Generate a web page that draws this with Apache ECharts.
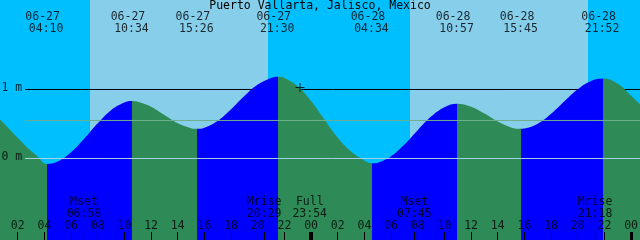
<!DOCTYPE html>
<html><head><meta charset="utf-8">
<script src="https://cdn.jsdelivr.net/npm/echarts@6/dist/echarts.min.js"></script>
<style>html,body{margin:0;padding:0;background:#00BFFF}#c{width:640px;height:240px}</style>
</head><body><div id="c"></div>
<script>
// ---- data (hours counted from 06-27 00:00, levels in metres) ----
const TITLE = 'Puerto Vallarta, Jalisco, Mexico';
const TIDE_HOURS  = [0.5, 1.0, 1.5, 2.0, 2.5, 3.0, 3.5, 4.167, 5, 6, 7, 8, 9, 10, 10.567, 11, 12, 13, 14, 15, 15.433, 16, 17, 18, 19, 20, 21, 21.5, 22, 23, 24, 25, 26, 27, 28, 28.567, 29, 30, 31, 32, 33, 34, 34.95, 36, 37, 38, 39, 39.75, 40, 41, 42, 43, 44, 45, 45.867, 47, 48, 49];
const TIDE_LEVELS = [0.59, 0.50, 0.40, 0.30, 0.20, 0.11, 0.03, -0.08, -0.045, 0.09, 0.29, 0.51, 0.70, 0.81, 0.833, 0.822, 0.75, 0.63, 0.51, 0.44, 0.43, 0.446, 0.547, 0.715, 0.907, 1.072, 1.168, 1.186, 1.168, 1.046, 0.832, 0.564, 0.30, 0.10, -0.03, -0.07, -0.06, 0.033, 0.203, 0.411, 0.607, 0.744, 0.794, 0.749, 0.651, 0.536, 0.451, 0.43, 0.433, 0.503, 0.648, 0.831, 1.005, 1.124, 1.16, 1.085, 0.91, 0.72];
const EXTREME_HOURS = [4.167, 10.567, 15.433, 21.5, 28.567, 34.95, 39.75, 45.867];
const EXTREME_KINDS = ['low', 'high', 'low', 'high', 'low', 'high', 'low', 'high'];
const EXTREME_DATES = ['06-27', '06-27', '06-27', '06-27', '06-28', '06-28', '06-28', '06-28'];
const EXTREME_TIMES = ['04:10', '10:34', '15:26', '21:30', '04:34', '10:57', '15:45', '21:52'];
const SUNRISE_HOURS = [7.4, 31.4];
const SUNSET_HOURS  = [20.75, 44.75];
const MOON_HOURS  = [6.967, 20.483, 23.9, 31.75, 45.3];
const MOON_EVENTS = ['Mset', 'Mrise', 'Full', 'Mset', 'Mrise'];
const MOON_TIMES  = ['06:58', '20:29', '23:54', '07:45', '21:18'];
const TICK_HOURS  = [2, 4, 6, 8, 10, 12, 14, 16, 18, 20, 22, 24, 26, 28, 30, 32, 34, 36, 38, 40, 42, 44, 46, 48];
const TICK_LABELS = ['02', '04', '06', '08', '10', '12', '14', '16', '18', '20', '22', '00', '02', '04', '06', '08', '10', '12', '14', '16', '18', '20', '22', '00'];
const LEVEL_MARKS  = [1, 0];
const LEVEL_LABELS = ['1 m', '0 m'];
const MEAN_SEA_LEVEL = 0.551;
const NOW_HOUR = 23.17, NOW_LEVEL = 1.03;
const X_MIN = 0.67, X_MAX = 48.67;
const Y_MIN = -1.1812, Y_MAX = 2.2971;
const LINE_START_HOUR = 2.55;

// ---- colours / styles ----
const NIGHT = '#00BFFF', DAY = '#87CEEB', RISE = '#0000FF', FALL = '#2E8B57';
const FONT = { fontFamily: 'DejaVu Sans Mono', fontSize: 11.5, color: '#000' };

const risingPieces = [];
for (let i = 0; i < EXTREME_HOURS.length - 1; i++) {
  if (EXTREME_KINDS[i] === 'low') risingPieces.push({ gte: EXTREME_HOURS[i], lt: EXTREME_HOURS[i + 1], color: RISE });
}

const chart = echarts.init(document.getElementById('c'), null, { renderer: 'canvas' });
const labelSeries = (data, fmt, offset, extra) => ({
  type: 'scatter', data, symbolSize: 1, clip: false, z: 10, silent: true,
  itemStyle: { color: 'rgba(0,0,0,0)' },
  label: Object.assign({ show: true, position: 'inside', offset, formatter: fmt }, FONT, extra || {})
});

chart.setOption({
  animation: false,
  backgroundColor: NIGHT,
  title: { text: TITLE, left: 'center', top: 0, padding: 0, textStyle: Object.assign({ fontWeight: 'normal' }, FONT) },
  grid: { left: 0, right: 0, top: 0, bottom: 0 },
  xAxis: { type: 'value', min: X_MIN, max: X_MAX, show: false },
  yAxis: { type: 'value', min: Y_MIN, max: Y_MAX, show: false },
  visualMap: { show: false, type: 'piecewise', seriesIndex: 2, dimension: 0, pieces: risingPieces, outOfRange: { color: FALL } },
  series: [
    { // daylight bands
      type: 'custom', z: 0, silent: true,
      data: SUNRISE_HOURS.map((h, i) => [h, SUNSET_HOURS[i]]),
      renderItem: (params, api) => {
        const a = api.coord([api.value(0), Y_MAX]);
        const b = api.coord([api.value(1), Y_MIN]);
        const x0 = Math.round(a[0]), x1 = Math.round(b[0]);
        return { type: 'rect', shape: { x: x0, y: a[1], width: x1 - x0, height: b[1] - a[1] }, style: { fill: DAY } };
      }
    },
    { type: 'line', z: 1, symbol: 'none', silent: true, data: [[LINE_START_HOUR, LEVEL_MARKS[0]], [X_MAX, LEVEL_MARKS[0]]], lineStyle: { color: '#000', width: 1 } },
    { type: 'line', z: 2, symbol: 'none', silent: true, smooth: 0.4,
      data: TIDE_HOURS.map((h, i) => [h, TIDE_LEVELS[i]]),
      lineStyle: { width: 0 }, areaStyle: { opacity: 1, origin: 'start' } },
    { type: 'line', z: 3, symbol: 'none', silent: true, data: [[LINE_START_HOUR, LEVEL_MARKS[1]], [X_MAX, LEVEL_MARKS[1]]], lineStyle: { color: '#a8d0e4', width: 1 } },
    { type: 'line', z: 3, symbol: 'none', silent: true, data: [[LINE_START_HOUR, MEAN_SEA_LEVEL], [X_MAX, MEAN_SEA_LEVEL]], lineStyle: { color: '#6fae8c', width: 1 } },
    { // tick marks
      type: 'custom', z: 4, silent: true,
      data: TICK_HOURS.map(h => [h, h % 24 === 0 ? 3 : 1]).concat(MOON_HOURS.map(h => [h, 1])),
      renderItem: (params, api) => {
        const p = api.coord([api.value(0), Y_MIN]);
        const w = api.value(1);
        return { type: 'rect', shape: { x: Math.round(p[0] - w / 2), y: p[1] - 8, width: w, height: 8 }, style: { fill: '#000' } };
      }
    },
    { type: 'scatter', z: 5, silent: true, clip: false, data: [[NOW_HOUR, NOW_LEVEL]],
      symbol: 'path://M0,4H9V5H0Z M4,0H5V9H4Z', symbolSize: [9, 9], itemStyle: { color: '#000' } },
    Object.assign(labelSeries(LEVEL_MARKS.map(v => [X_MIN, v]), p => LEVEL_LABELS[p.dataIndex], [0, -1]), { label: Object.assign({ show: true, position: 'right', distance: 1, offset: [0, -1], formatter: p => LEVEL_LABELS[p.dataIndex] }, FONT) }),
    labelSeries(EXTREME_HOURS.map(h => [h, Y_MAX]), p => EXTREME_DATES[p.dataIndex], [-4, 17]),
    labelSeries(EXTREME_HOURS.map(h => [h, Y_MAX]), p => EXTREME_TIMES[p.dataIndex], [-0.5, 29]),
    labelSeries(MOON_HOURS.map(h => [h, Y_MIN]), p => MOON_EVENTS[p.dataIndex] + '\n' + MOON_TIMES[p.dataIndex], [0, -32.2], { lineHeight: 12.3 }),
    labelSeries(TICK_HOURS.map(h => [h, Y_MIN]), p => TICK_LABELS[p.dataIndex], [0, -14])
  ]
});
</script>
</body></html>
